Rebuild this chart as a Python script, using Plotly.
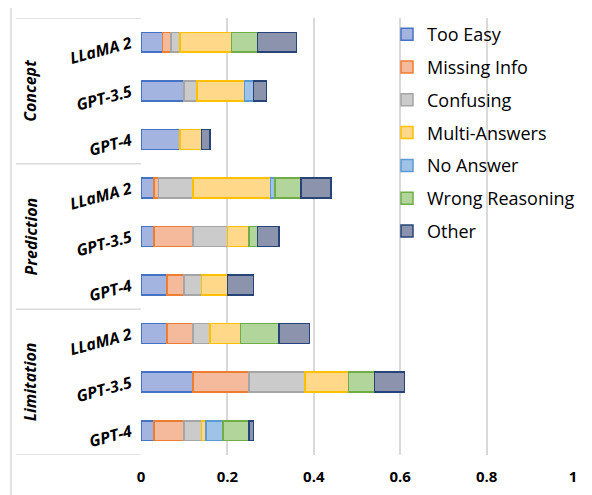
import plotly.graph_objects as go

models = ["LLaMA 2", "GPT-3.5", "GPT-4", "LLaMA 2", "GPT-3.5", "GPT-4", "LLaMA 2", "GPT-3.5", "GPT-4"]
groups = ["Concept", "Prediction", "Limitation"]

too_easy = [0.05, 0.10, 0.09, 0.03, 0.03, 0.06, 0.06, 0.12, 0.03]
missing_info = [0.02, 0.00, 0.00, 0.01, 0.09, 0.04, 0.06, 0.13, 0.07]
confusing = [0.02, 0.03, 0.00, 0.08, 0.08, 0.04, 0.04, 0.13, 0.04]
multi_answers = [0.12, 0.11, 0.05, 0.18, 0.05, 0.06, 0.07, 0.10, 0.01]
no_answer = [0.00, 0.02, 0.00, 0.01, 0.00, 0.00, 0.00, 0.00, 0.04]
wrong_reasoning = [0.06, 0.00, 0.00, 0.06, 0.02, 0.00, 0.09, 0.06, 0.06]
other = [0.09, 0.03, 0.02, 0.07, 0.05, 0.06, 0.07, 0.07, 0.01]

x_ticks = [0, 0.2, 0.4, 0.6, 0.8, 1]
x_ticklabels = ["0", "0.2", "0.4", "0.6", "0.8", "1"]

series = [
    ("Too Easy", too_easy, "#a4b4e0", "#4472c4"),
    ("Missing Info", missing_info, "#f5b99b", "#ed7d31"),
    ("Confusing", confusing, "#cbcbcb", "#a5a5a5"),
    ("Multi-Answers", multi_answers, "#ffd88a", "#ffc000"),
    ("No Answer", no_answer, "#9fc3e7", "#5b9bd5"),
    ("Wrong Reasoning", wrong_reasoning, "#b1d59b", "#70ad47"),
    ("Other", other, "#8b93ad", "#264478"),
]

ypos = list(range(len(models)))

fig = go.Figure()
for i, (name, vals, fill, line) in enumerate(series):
    fig.add_trace(go.Bar(
        y=ypos, x=vals, name=name, orientation="h",
        marker=dict(color=fill, line=dict(color=line, width=1.5)),
        legendgroup=f"g{i}",
    ))

# page has 8px body margin; reference pixel coords are converted by OFF
OFF = 8
FW, FH = 592 - OFF, 495 - OFF
L, R, T, B = 141 - OFF, 573 - OFF, 17 - OFF, 455 - OFF
W, H = R - L, B - T
def px(x):
    return (x - OFF - L) / W
def py(y):
    return (B - (y - OFF)) / H

shapes = []
# outer chart border
shapes.append(dict(type="rect", xref="paper", yref="paper",
                   x0=px(11), x1=px(589), y0=py(505), y1=py(5),
                   line=dict(color="#d9d9d9", width=1.5), layer="below"))
# group separator lines in label area
for yb in [-0.5, 2.5, 5.5, 8.5]:
    shapes.append(dict(type="line", xref="paper", yref="y",
                       x0=px(16), x1=0, y0=yb, y1=yb,
                       line=dict(color="#d9d9d9", width=1.5)))

annotations = []
for gi, g in enumerate(groups):
    annotations.append(dict(
        text=f"<b><i>{g}</i></b>", xref="paper", yref="y",
        x=px(30), y=gi * 3 + 1, textangle=-90, showarrow=False,
        font=dict(family="Open Sans", size=16, color="black"),
        xanchor="center", yanchor="middle",
    ))

fig.update_layout(
    barmode="stack",
    bargap=0.59,
    width=FW, height=FH,
    margin=dict(l=L, r=FW - R, t=T, b=FH - B),
    paper_bgcolor="white", plot_bgcolor="white",
    font=dict(family="Open Sans", color="black"),
    shapes=shapes,
    annotations=annotations,
    legend=dict(
        x=px(387), y=py(16), xanchor="left", yanchor="top",
        font=dict(family="Open Sans", size=18, color="black"),
        bgcolor="rgba(0,0,0,0)", tracegroupgap=6.4,
        traceorder="grouped",
    ),
    xaxis=dict(
        range=[0, 1], tickvals=x_ticks, ticktext=[f"<b>{t}</b>" for t in x_ticklabels],
        showgrid=True, gridcolor="#d9d9d9", gridwidth=1.5,
        zeroline=False, showline=False,
        ticks="outside", ticklen=8, tickcolor="rgba(0,0,0,0)",
        tickfont=dict(family="Open Sans", size=15, color="black"),
    ),
    yaxis=dict(
        range=[8.5, -0.5], tickvals=ypos,
        ticktext=[f"<b><i>{m}</i></b>" for m in models],
        tickangle=-15, showgrid=False, zeroline=False, showline=False,
        ticks="outside", ticklen=6, tickcolor="rgba(0,0,0,0)",
        tickfont=dict(family="Open Sans", size=16, color="black"),
    ),
)

fig.write_html("out.html")
